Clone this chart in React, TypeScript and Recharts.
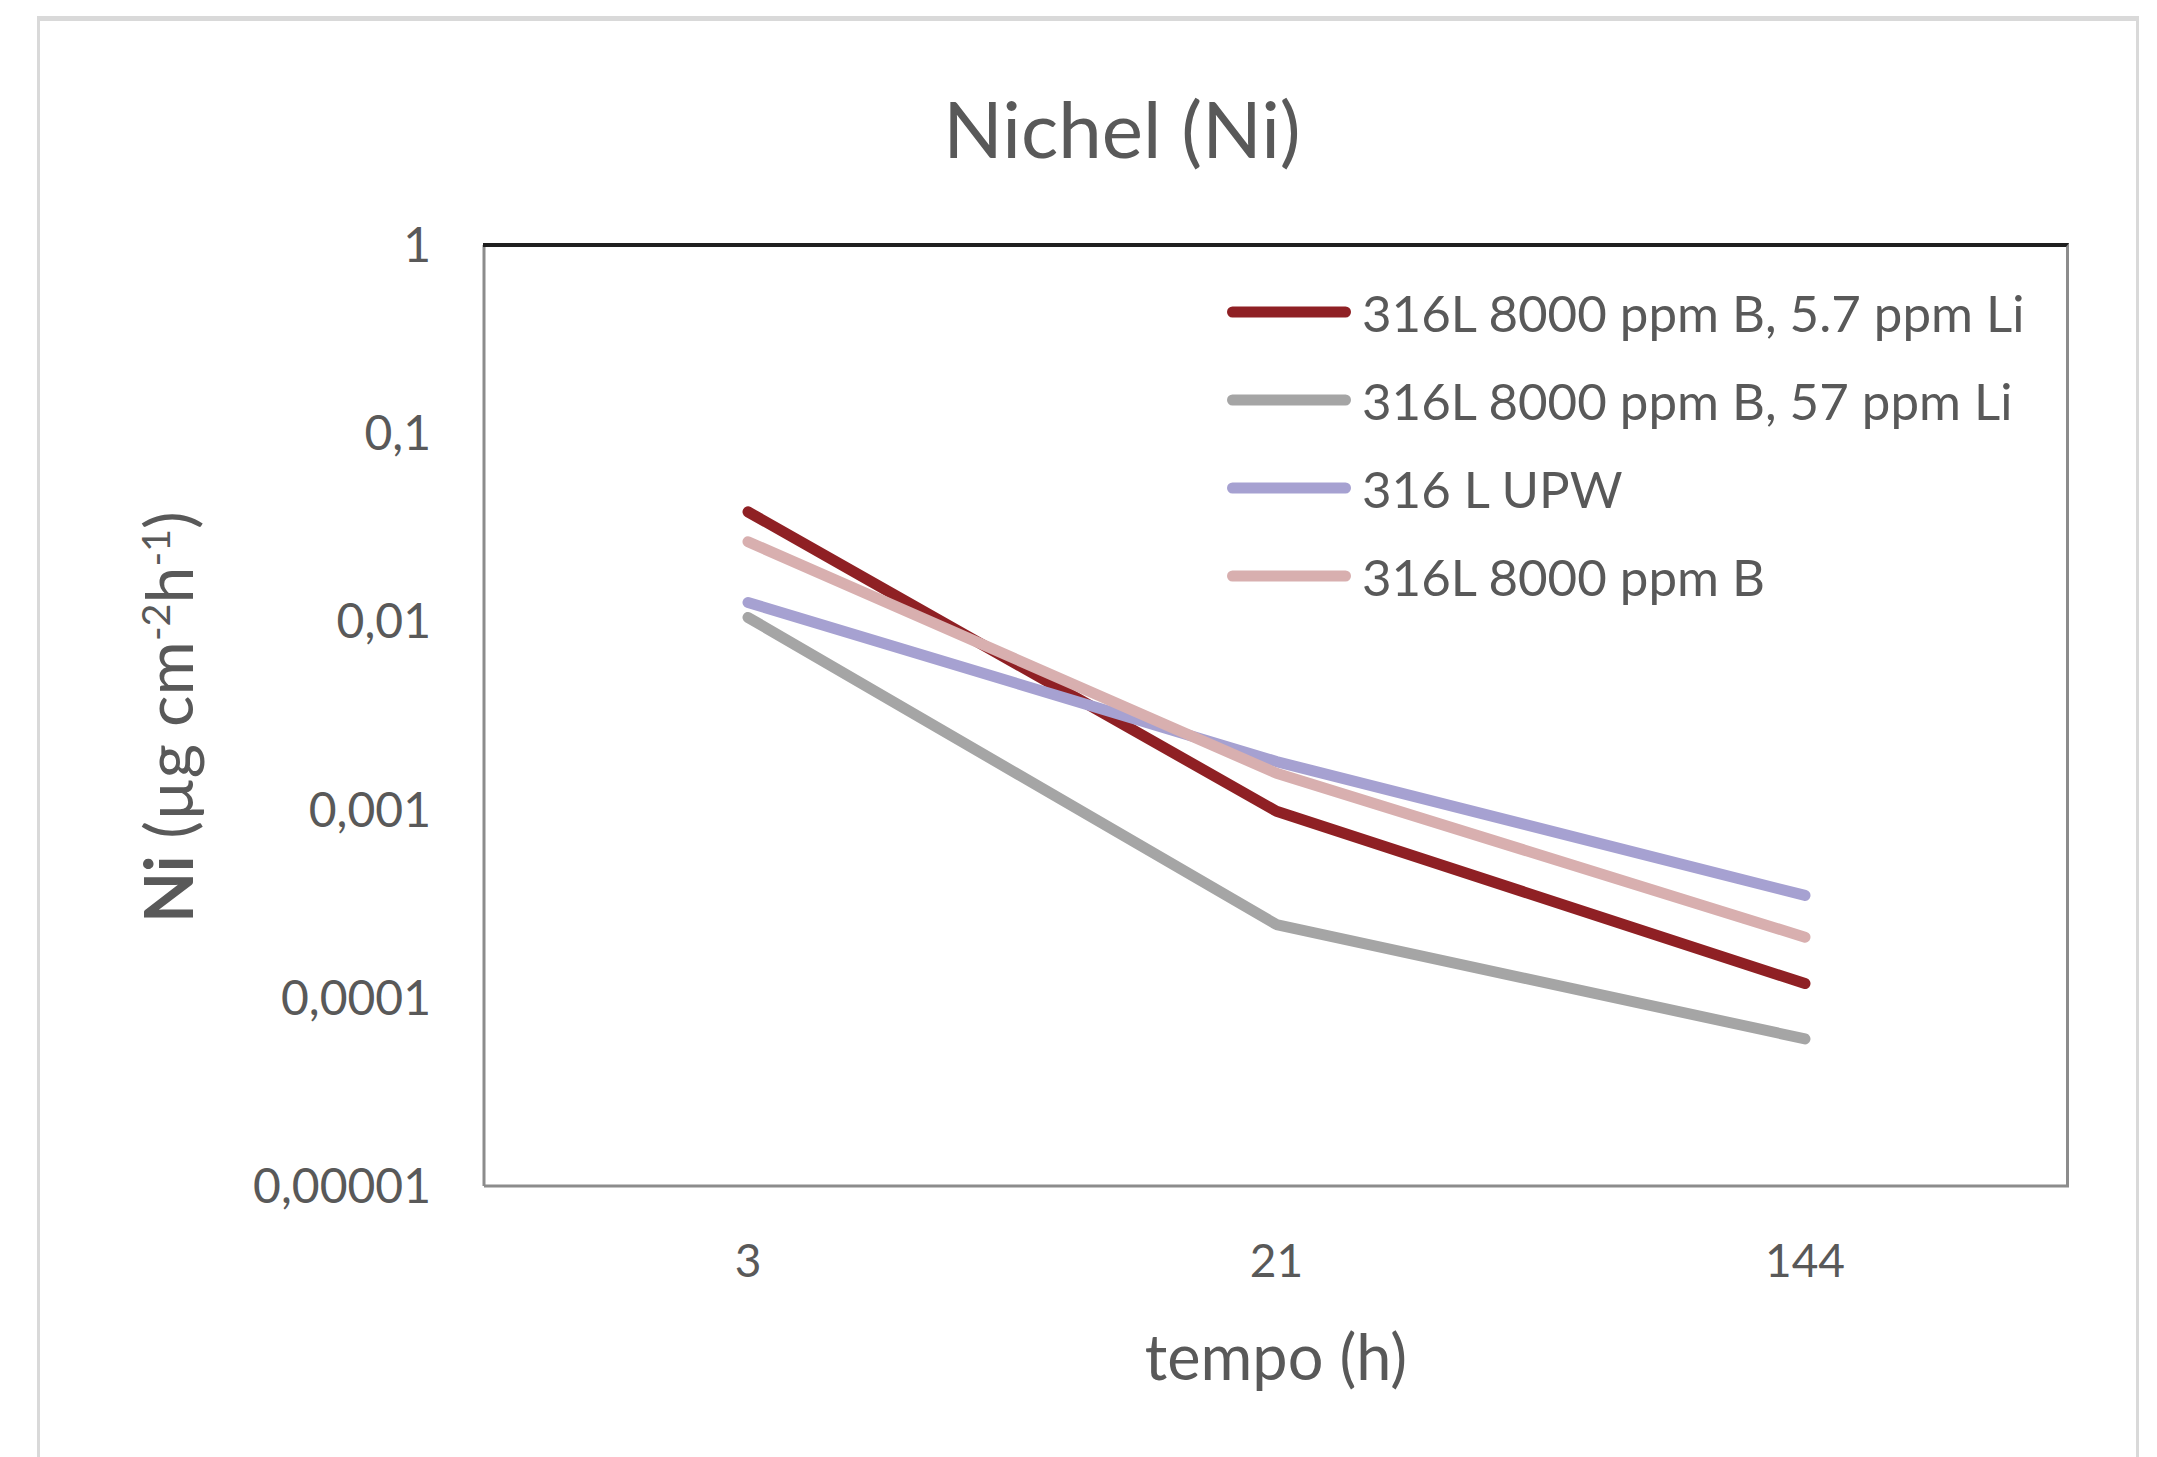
import { LineChart, Line, XAxis, YAxis, Legend } from "recharts";

// tempo (h)
const hours = ["3", "21", "144"];

// Ni release, µg cm-2 h-1
const li57 = [0.0382, 0.00098, 0.000119]; // 316L 8000 ppm B, 5.7 ppm Li
const li570 = [0.0105, 0.000245, 0.0000605]; // 316L 8000 ppm B, 57 ppm Li
const upw = [0.0126, 0.0018, 0.00035]; // 316 L UPW
const boron = [0.0265, 0.00156, 0.00021]; // 316L 8000 ppm B

const yTicks = [1, 0.1, 0.01, 0.001, 0.0001, 0.00001];

const series = [
  { key: "li57", name: "316L 8000 ppm B, 5.7 ppm Li", color: "#8f2024", values: li57 },
  { key: "li570", name: "316L 8000 ppm B, 57 ppm Li", color: "#a5a5a5", values: li570 },
  { key: "upw", name: "316 L UPW", color: "#a6a1d1", values: upw },
  { key: "boron", name: "316L 8000 ppm B", color: "#d8afaf", values: boron },
];

const data = hours.map((h, i) => {
  const row: Record<string, any> = { t: h };
  series.forEach((s) => (row[s.key] = s.values[i]));
  return row;
});

const W = 2157;
const H = 1457;
const M = { top: 245, right: 88, left: 0, bottom: 0 };
const Y_W = 484;
const X_H = 271;
const FONT = "Lato, 'Open Sans', sans-serif";
const TEXT = "#595959";

function formatTick(v: number) {
  // 0.001 -> "0,001"
  return String(v).replace(".", ",");
}

function renderLegend() {
  return (
    <div style={{ fontFamily: FONT }}>
      {series.map((s) => (
        <div key={s.key} style={{ display: "flex", alignItems: "center", height: 88 }}>
          <svg width={141} height={20} style={{ display: "block", flex: "none" }}>
            <line x1={11.5} y1={10} x2={124.5} y2={10} stroke={s.color} strokeWidth={11} strokeLinecap="round" />
          </svg>
          <span style={{ fontSize: 51, color: TEXT, lineHeight: 1, whiteSpace: "nowrap" }}>{s.name}</span>
        </div>
      ))}
    </div>
  );
}

export default function App() {
  const plotLeft = M.left + Y_W;
  const plotTop = M.top;
  const plotW = W - M.right - plotLeft;
  const plotH = H - M.bottom - X_H - plotTop;

  return (
    <div style={{ position: "absolute", left: 0, top: 0, width: W, height: H, background: "#fff", overflow: "hidden" }}>
      {/* outer chart frame */}
      <div
        style={{
          position: "absolute",
          left: 37,
          top: 16,
          width: 2096,
          height: 1500,
          borderTop: "5px solid #d9d9d9",
          borderLeft: "3px solid #d9d9d9",
          borderRight: "3px solid #d9d9d9",
        }}
      />
      <LineChart width={W} height={H} data={data} margin={M}>
        <XAxis
          dataKey="t"
          height={X_H}
          padding={{ left: 264, right: 264 }}
          tickLine={false}
          tickSize={0}
          tickMargin={58}
          axisLine={{ stroke: "#8c8c8c", strokeWidth: 3 }}
          tick={{ fontSize: 46, fill: TEXT, fontFamily: FONT }}
        />
        <YAxis
          scale="log"
          domain={[0.00001, 1]}
          ticks={yTicks}
          allowDataOverflow
          width={Y_W}
          tickLine={false}
          tickSize={0}
          tickMargin={53}
          tickFormatter={formatTick}
          axisLine={{ stroke: "#8c8c8c", strokeWidth: 3 }}
          tick={{ fontSize: 48, fill: TEXT, fontFamily: FONT }}
        />
        <Legend
          layout="vertical"
          align="center"
          verticalAlign="middle"
          wrapperStyle={{ left: 1221, top: 268, width: "auto" }}
          content={renderLegend}
        />
        {series.map((s) => (
          <Line
            key={s.key}
            dataKey={s.key}
            name={s.name}
            stroke={s.color}
            strokeWidth={11}
            strokeLinecap="round"
            strokeLinejoin="round"
            dot={false}
            activeDot={false}
            isAnimationActive={false}
          />
        ))}
      </LineChart>

      {/* plot area frame: dark top edge, grey right edge */}
      <div
        style={{
          position: "absolute",
          left: plotLeft - 1.5,
          top: plotTop - 2,
          width: plotW + 1.5,
          height: plotH + 2,
          borderTop: "4px solid #1f1f1f",
          borderRight: "3px solid #8c8c8c",
          boxSizing: "border-box",
          pointerEvents: "none",
        }}
      />

      {/* title */}
      <div
        style={{
          position: "absolute",
          left: 1122,
          top: 128,
          transform: "translate(-50%, -50%)",
          fontFamily: FONT,
          fontSize: 78,
          color: TEXT,
          lineHeight: 1,
          whiteSpace: "nowrap",
        }}
      >
        Nichel (Ni)
      </div>

      {/* x axis title */}
      <div
        style={{
          position: "absolute",
          left: 1276,
          top: 1355,
          transform: "translate(-50%, -50%)",
          fontFamily: FONT,
          fontSize: 63,
          color: TEXT,
          lineHeight: 1,
          whiteSpace: "nowrap",
        }}
      >
        tempo (h)
      </div>

      {/* y axis title */}
      <div
        style={{
          position: "absolute",
          left: 168,
          top: 717,
          transform: "translate(-50%, -50%) rotate(-90deg)",
          fontFamily: FONT,
          fontSize: 66,
          color: TEXT,
          lineHeight: 1,
          whiteSpace: "nowrap",
        }}
      >
        <b>Ni</b> (µg cm<sup style={{ fontSize: "0.6em" }}>-2</sup>h<sup style={{ fontSize: "0.6em" }}>-1</sup>)
      </div>
    </div>
  );
}
